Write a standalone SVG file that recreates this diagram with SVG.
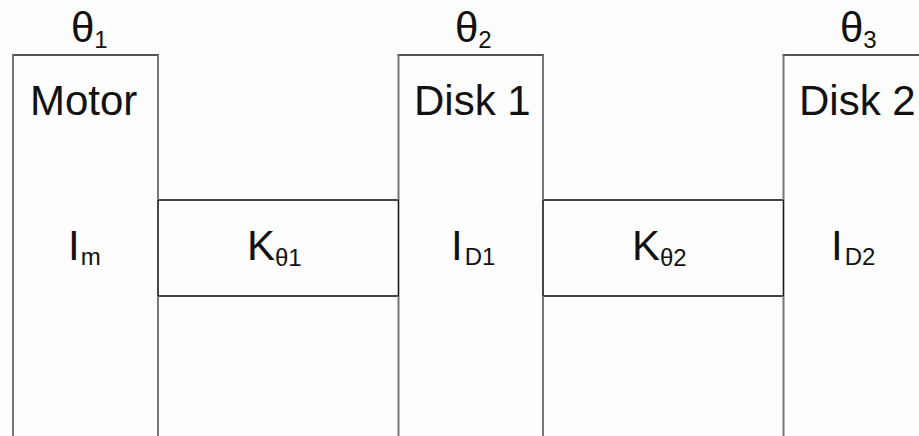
<svg xmlns="http://www.w3.org/2000/svg" width="919" height="436" viewBox="0 0 919 436">
<style>
text{font-family:"Liberation Sans",Arial,sans-serif;font-size:42px;fill:#111}
.sub{font-size:24px}
.top{stroke:#1a1a1a;stroke-width:1.6;fill:none}
.side{stroke:#777777;stroke-width:2;fill:none}
.shaft{stroke:#1a1a1a;stroke-width:1.6;fill:#fdfdfd}
</style>
<rect x="0" y="0" width="919" height="436" fill="#fdfdfd"/>
<g id="connectors">
  <g id="shaft1">
    <rect class="shaft" x="158" y="200" width="240.5" height="96"/>
    <text x="247" y="260">K<tspan class="sub" dy="6">θ1</tspan></text>
  </g>
  <g id="shaft2">
    <rect class="shaft" x="543" y="200" width="240.5" height="96"/>
    <text x="632" y="260">K<tspan class="sub" dy="6">θ2</tspan></text>
  </g>
</g>
<g id="motor">
  <line class="top" x1="12" y1="55" x2="159" y2="55"/>
  <line class="side" x1="13" y1="55" x2="13" y2="440"/>
  <line class="side" x1="158" y1="55" x2="158" y2="200"/>
  <line class="side" x1="158" y1="296" x2="158" y2="440"/>
  <text x="71" y="42">θ<tspan class="sub" dy="6">1</tspan></text>
  <text x="30" y="115">Motor</text>
  <text x="68" y="260">I<tspan class="sub" dy="5" dx="1">m</tspan></text>
</g>
<g id="disk1">
  <line class="top" x1="397.5" y1="55" x2="544" y2="55"/>
  <line class="side" x1="398.5" y1="55" x2="398.5" y2="200"/>
  <line class="side" x1="398.5" y1="296" x2="398.5" y2="440"/>
  <line class="side" x1="543" y1="55" x2="543" y2="200"/>
  <line class="side" x1="543" y1="296" x2="543" y2="440"/>
  <text x="455" y="42">θ<tspan class="sub" dy="6">2</tspan></text>
  <text x="414" y="115">Disk 1</text>
  <text x="451" y="260">I<tspan class="sub" dy="5" dx="2">D1</tspan></text>
</g>
<g id="disk2">
  <line class="top" x1="782.5" y1="55" x2="925" y2="55"/>
  <line class="side" x1="783.5" y1="55" x2="783.5" y2="200"/>
  <line class="side" x1="783.5" y1="296" x2="783.5" y2="440"/>
  <text x="840" y="42">θ<tspan class="sub" dy="6">3</tspan></text>
  <text x="799" y="115">Disk 2</text>
  <text x="831" y="260">I<tspan class="sub" dy="5" dx="2">D2</tspan></text>
</g>
</svg>
